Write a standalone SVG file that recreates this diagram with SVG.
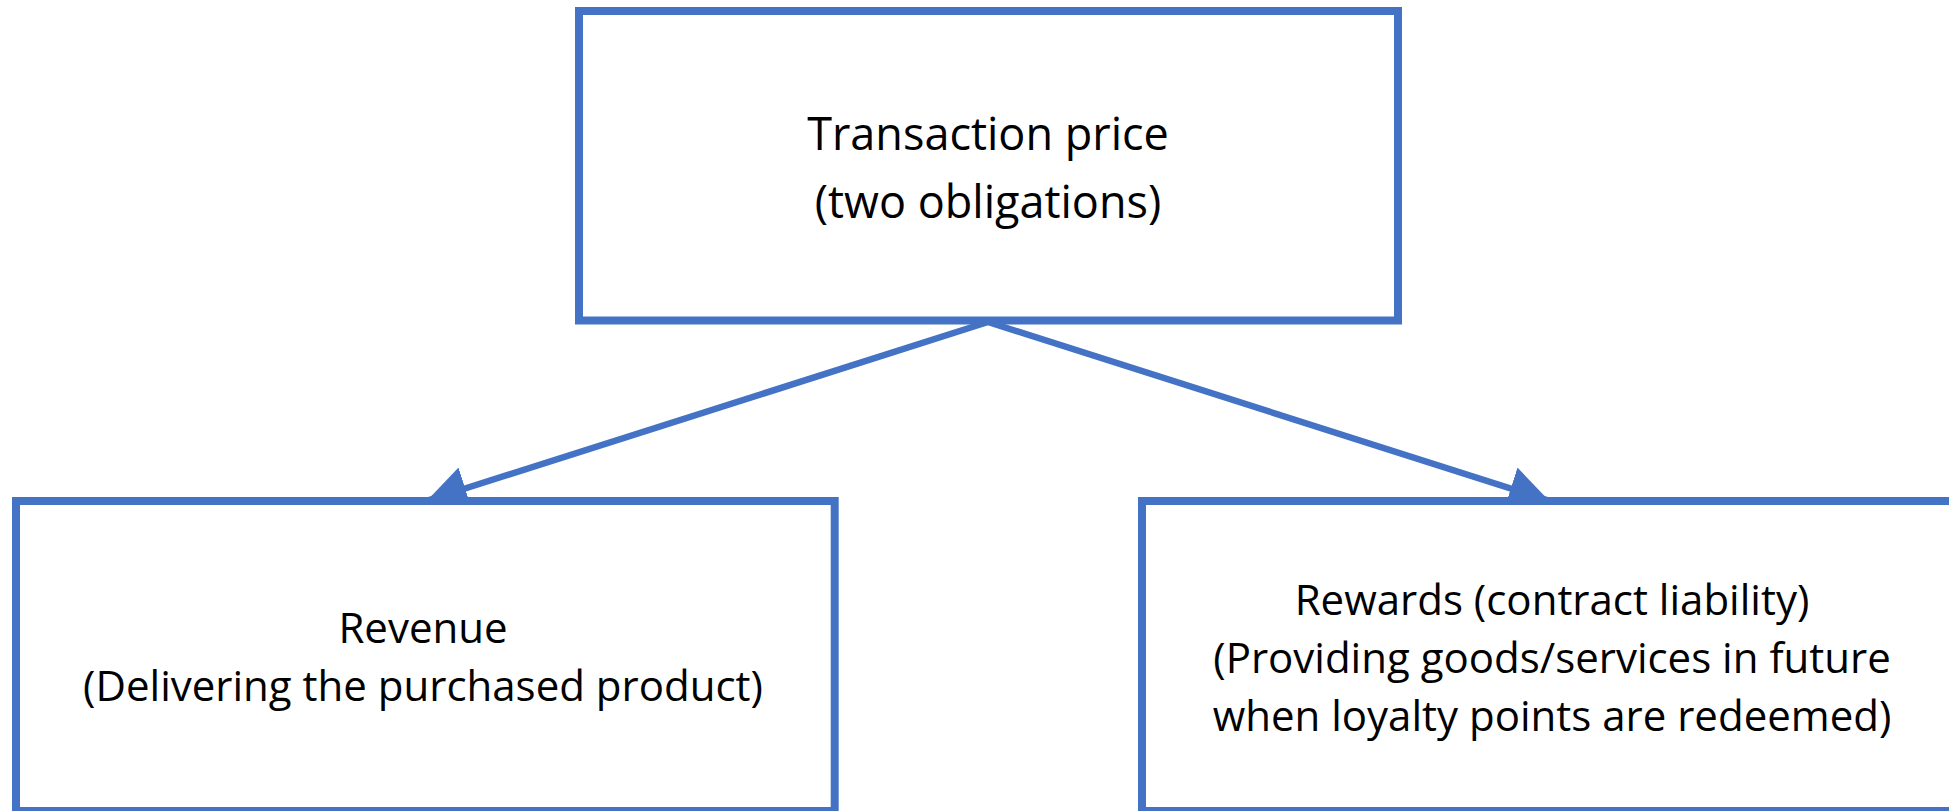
<svg xmlns="http://www.w3.org/2000/svg" width="1949" height="811" viewBox="0 0 1949 811">
<style>
.box{fill:#ffffff;stroke:#4472C4;stroke-width:8}
.lbl{font-family:"Open Sans","Noto Sans","Liberation Sans",sans-serif;fill:#000000;text-anchor:middle}
.big{font-size:45px}
.small{font-size:42px}
.conn{stroke:#4472C4;stroke-width:6.5;fill:none}
</style>
<defs>
<marker id="ah" viewBox="0 0 40 44" refX="38" refY="22" markerWidth="40" markerHeight="44" markerUnits="userSpaceOnUse" orient="auto">
<path d="M0,0 L40,22 L0,44 Z" fill="#4472C4"/>
</marker>
</defs>
<rect width="1949" height="811" fill="#ffffff"/>
<g id="connectors">
<line class="conn" x1="988" y1="322" x2="429" y2="500" marker-end="url(#ah)"/>
<line class="conn" x1="988" y1="322" x2="1547" y2="500" marker-end="url(#ah)"/>
</g>
<g id="transaction-price">
<rect class="box" x="579" y="11" width="819" height="309.5"/>
<text class="lbl big" x="988" y="150">Transaction price</text>
<text class="lbl big" x="988" y="218">(two obligations)</text>
</g>
<g id="revenue">
<rect class="box" x="16" y="501" width="818.7" height="310"/>
<text class="lbl small" x="423" y="643">Revenue</text>
<text class="lbl small" x="423" y="701">(Delivering the purchased product)</text>
</g>
<g id="rewards">
<rect class="box" x="1142" y="501" width="820" height="310"/>
<text class="lbl small" x="1552" y="615">Rewards (contract liability)</text>
<text class="lbl small" x="1552" y="673">(Providing goods/services in future</text>
<text class="lbl small" x="1552" y="731">when loyalty points are redeemed)</text>
</g>
</svg>
